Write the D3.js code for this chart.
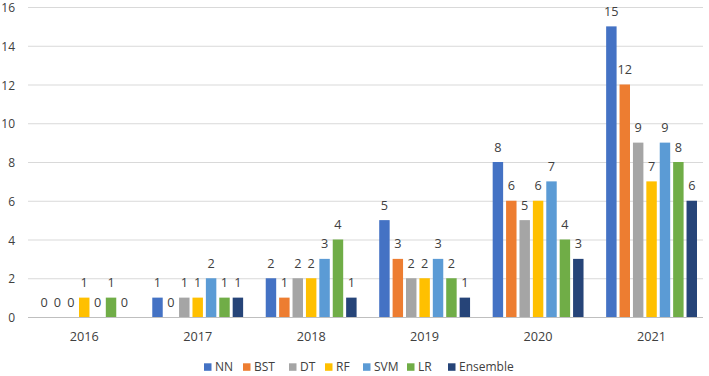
<!DOCTYPE html>
<html>
<head>
<meta charset="utf-8">
<script src="https://cdn.jsdelivr.net/npm/d3@7"></script>
<style>
  body { margin: 0; background: #fff; }
  text { font-family: "Open Sans", "Liberation Sans", sans-serif; fill: #404040; }
</style>
</head>
<body>
<div id="chart"></div>
<script>
// 数据
const years = ['2016', '2017', '2018', '2019', '2020', '2021'];
const seriesNames = ['NN', 'BST', 'DT', 'RF', 'SVM', 'LR', 'Ensemble'];
const seriesColors = ['#4472C4', '#ED7D31', '#A5A5A5', '#FFC000', '#5B9BD5', '#70AD47', '#264478'];
const nn = [0, 1, 2, 5, 8, 15];
const bst = [0, 0, 1, 3, 6, 12];
const dt = [0, 1, 2, 2, 5, 9];
const rf = [1, 1, 2, 2, 6, 7];
const svm = [0, 2, 3, 3, 7, 9];
const lr = [1, 1, 4, 2, 4, 8];
const ensemble = [0, 1, 1, 1, 3, 6];
const yTicks = [0, 2, 4, 6, 8, 10, 12, 14, 16];

const allSeries = [nn, bst, dt, rf, svm, lr, ensemble];

const width = 709, height = 376;
const margin = { top: 7, right: 6, bottom: 59, left: 28 };
const plotW = width - margin.left - margin.right;
const plotH = height - margin.top - margin.bottom;

const svg = d3.select('#chart').append('svg')
    .attr('width', width)
    .attr('height', height);

const g = svg.append('g')
    .attr('transform', `translate(${margin.left},${margin.top})`);

// 类别带宽略超出网格线右端（与原图一致）
const x0 = d3.scaleBand().domain(years).range([-0.5, 680.3]).padding(0);
const x1 = d3.scaleBand().domain(seriesNames).range([-46.9, 46.9]).paddingInner(0.22).paddingOuter(0.11);
const y = d3.scaleLinear().domain([0, 16]).range([plotH, 0]);

// 网格线
g.selectAll('.grid')
    .data(yTicks)
    .enter()
    .append('line')
    .attr('x1', 0)
    .attr('x2', plotW)
    .attr('y1', d => y(d) + 0.5)
    .attr('y2', d => y(d) + 0.5)
    .style('stroke', d => d === 0 ? '#bfbfbf' : '#d9d9d9')
    .style('stroke-width', 1);

// y 轴标签
g.selectAll('.ytick')
    .data(yTicks)
    .enter()
    .append('text')
    .attr('x', -13)
    .attr('y', d => y(d) + 1)
    .attr('dy', '0.35em')
    .attr('text-anchor', 'end')
    .style('font-size', '12px')
    .text(d => d);

// x 轴标签
g.selectAll('.xtick')
    .data(years)
    .enter()
    .append('text')
    .attr('x', d => x0(d) + x0.bandwidth() / 2)
    .attr('y', plotH + 24)
    .attr('text-anchor', 'middle')
    .style('font-size', '12.7px')
    .text(d => d);

// 柱子
const groups = g.selectAll('.year')
    .data(years)
    .enter()
    .append('g')
    .attr('transform', d => `translate(${x0(d) + x0.bandwidth() / 2},0)`);

groups.each(function(yr, i) {
    const cells = seriesNames.map((s, j) => ({ name: s, value: allSeries[j][i], color: seriesColors[j] }));
    const sel = d3.select(this);
    sel.selectAll('rect')
        .data(cells)
        .enter()
        .append('rect')
        .attr('x', d => x1(d.name))
        .attr('y', d => y(d.value))
        .attr('width', x1.bandwidth())
        .attr('height', d => plotH - y(d.value))
        .style('fill', d => d.color);
    sel.selectAll('text')
        .data(cells)
        .enter()
        .append('text')
        .attr('x', d => x1(d.name) + x1.bandwidth() / 2)
        .attr('y', d => y(d.value) - 10.5)
        .attr('text-anchor', 'middle')
        .style('font-size', '12.7px')
        .text(d => d.value);
});

// 图例
const legendX = [204, 243, 289, 325, 363, 407, 448];
const legend = svg.selectAll('.legend')
    .data(seriesNames)
    .enter()
    .append('g')
    .attr('transform', (d, i) => `translate(${legendX[i]},367)`);

legend.append('rect')
    .attr('x', 0)
    .attr('y', -3.7)
    .attr('width', 7.5)
    .attr('height', 7.5)
    .style('fill', (d, i) => seriesColors[i]);

legend.append('text')
    .attr('x', 11)
    .attr('y', 0)
    .attr('dy', '0.35em')
    .style('font-size', '12px')
    .text(d => d);
</script>
</body>
</html>
